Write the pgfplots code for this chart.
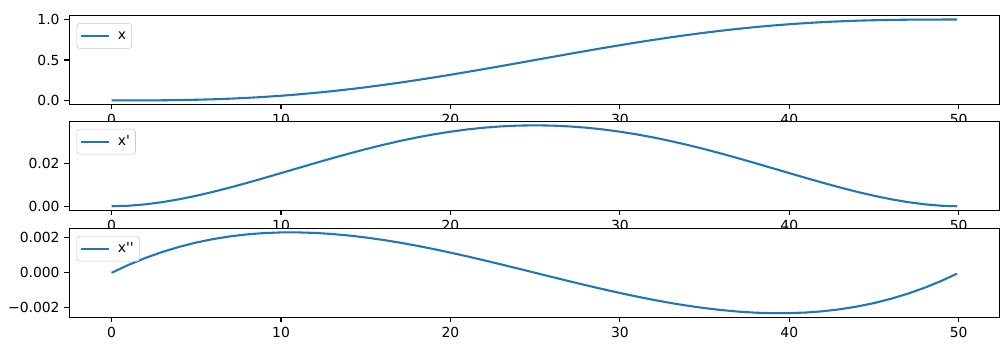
\documentclass[border=0pt]{standalone}
\usepackage{fontspec}
\setmainfont{DejaVu Sans}
\usepackage{pgfplots}
\pgfplotsset{compat=1.18}
\usepackage{pgfplotstable}
\definecolor{mplblue}{HTML}{1F77B4}
\pgfplotstableread{
t x dx ddx
0 0 0 0
1 0.0000776 0.0002305 0.0004516
2 0.0006022 0.0008847 0.0008479
3 0.0019703 0.0019086 0.0011912
4 0.0045253 0.0032502 0.0014838
5 0.00856 0.00486 0.001728
6 0.0143189 0.0066908 0.0019261
7 0.0220003 0.0086977 0.0020805
8 0.0317587 0.010838 0.0021934
9 0.0437073 0.0130715 0.0022671
10 0.05792 0.01536 0.002304
11 0.0744338 0.0176679 0.0023063
12 0.0932512 0.0199619 0.0022764
13 0.1143424 0.0222107 0.0022164
14 0.1376478 0.0243855 0.0021289
15 0.16308 0.02646 0.002016
16 0.1905263 0.0284099 0.0018801
17 0.2198509 0.0302132 0.0017234
18 0.2508973 0.0318505 0.0015483
19 0.2834907 0.0333044 0.001357
20 0.31744 0.03456 0.001152
21 0.3525403 0.0356046 0.0009354
22 0.3885753 0.0364278 0.0007096
23 0.4253194 0.0370215 0.0004769
24 0.46254 0.0373801 0.0002396
25 0.5 0.0375 0
26 0.53746 0.0373801 -0.0002396
27 0.5746806 0.0370215 -0.0004769
28 0.6114247 0.0364278 -0.0007096
29 0.6474597 0.0356046 -0.0009354
30 0.68256 0.03456 -0.001152
31 0.7165093 0.0333044 -0.001357
32 0.7491027 0.0318505 -0.0015483
33 0.7801491 0.0302132 -0.0017234
34 0.8094737 0.0284099 -0.0018801
35 0.83692 0.02646 -0.002016
36 0.8623522 0.0243855 -0.0021289
37 0.8856576 0.0222107 -0.0022164
38 0.9067488 0.0199619 -0.0022764
39 0.9255662 0.0176679 -0.0023063
40 0.94208 0.01536 -0.002304
41 0.9562927 0.0130715 -0.0022671
42 0.9682413 0.010838 -0.0021934
43 0.9779997 0.0086977 -0.0020805
44 0.9856811 0.0066908 -0.0019261
45 0.99144 0.00486 -0.001728
46 0.9954747 0.0032502 -0.0014838
47 0.9980297 0.0019086 -0.0011912
48 0.9993978 0.0008847 -0.0008479
49 0.9999224 0.0002305 -0.0004516
49.9 1.0 0.0000024 -0.0000477
}\data
\pgfplotsset{
  panel/.style={
    scale only axis, width=669.6pt, height=64.08pt,
    anchor=south west,
    xmin=-2.495, xmax=52.395,
    xtick={0,10,20,30,40,50},
    tick align=outside, major tick length=3.5pt,
    tick style={black, line width=0.8pt},
    axis line style={black, line width=0.8pt},
    axis background/.style={fill=white},
    xtick pos=bottom, ytick pos=left,
    /pgf/number format/assume math mode=true,
    scaled y ticks=false,
    legend style={at={(0,1)}, anchor=north west, xshift=5.3pt, yshift=-5.5pt,
      draw=black!20, rounded corners=2pt, inner xsep=2pt, inner ysep=2pt,
      nodes={inner xsep=2pt, inner ysep=2pt, text height=7.5pt, text depth=2.5pt}},
    legend cell align=left,
    legend image code/.code={\draw[##1] (0pt,0pt) -- (20pt,0pt); \path (24pt,0pt);},
  }
}
\begin{document}
\begin{tikzpicture}
\path[use as bounding box] (-49.9pt,-30.02pt) rectangle (675.86pt,228.46pt);
\begin{axis}[panel, at={(0pt,153.22pt)},
  ymin=-0.05, ymax=1.05, ytick={0,0.5,1}, yticklabels={0.0,0.5,1.0}]
\addplot[mplblue, line width=1.5pt] table[x=t, y=x] {\data};
\addlegendentry{x}
\end{axis}
\begin{axis}[panel, at={(0pt,77.04pt)},
  ymin=-0.001875, ymax=0.039375, ytick={0,0.02}, yticklabels={0.00,0.02}]
\addplot[mplblue, line width=1.5pt] table[x=t, y=dx] {\data};
\addlegendentry{x\textquotesingle}
\end{axis}
\begin{axis}[panel, at={(0pt,0pt)},
  ymin=-0.0025403, ymax=0.0025403, ytick={-0.002,0,0.002}, yticklabels={−0.002,0.000,0.002}]
\addplot[mplblue, line width=1.5pt] table[x=t, y=ddx] {\data};
\addlegendentry{x\textquotesingle\textquotesingle}
\end{axis}
\end{tikzpicture}
\end{document}
